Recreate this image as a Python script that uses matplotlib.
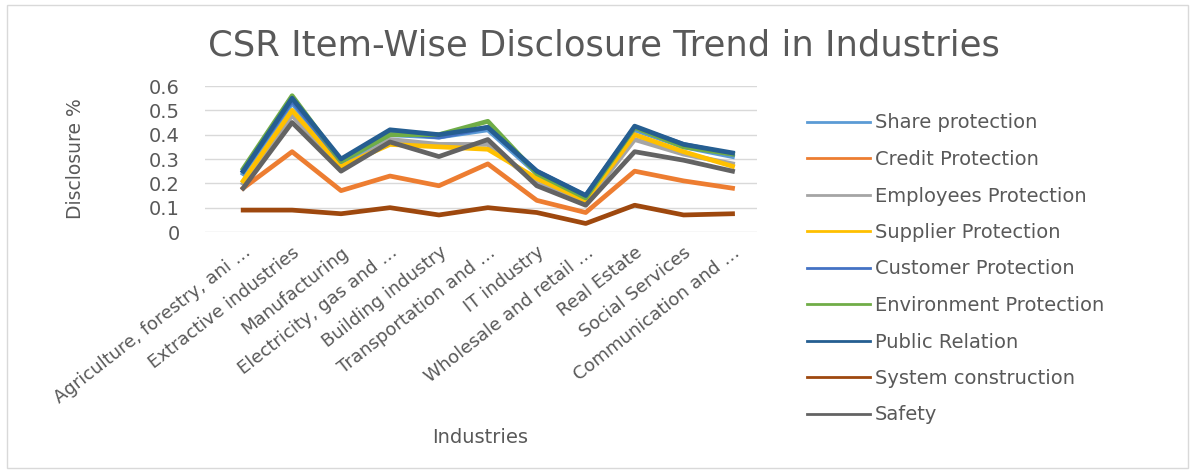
import matplotlib.pyplot as plt
from matplotlib.patches import Rectangle

plt.rcParams['font.family'] = ['DejaVu Sans']

industries = [
    "Agriculture, forestry, ani …",
    "Extractive industries",
    "Manufacturing",
    "Electricity, gas and …",
    "Building industry",
    "Transportation and …",
    "IT industry",
    "Wholesale and retail …",
    "Real Estate",
    "Social Services",
    "Communication and …",
]

share = [0.24, 0.53, 0.28, 0.40, 0.39, 0.42, 0.24, 0.14, 0.42, 0.35, 0.31]
credit = [0.18, 0.33, 0.17, 0.23, 0.19, 0.28, 0.13, 0.08, 0.25, 0.21, 0.18]
employees = [0.20, 0.48, 0.26, 0.38, 0.36, 0.36, 0.20, 0.12, 0.38, 0.32, 0.28]
supplier = [0.21, 0.50, 0.27, 0.36, 0.35, 0.34, 0.22, 0.13, 0.40, 0.33, 0.27]
customer = [0.25, 0.54, 0.29, 0.41, 0.39, 0.43, 0.25, 0.15, 0.43, 0.36, 0.32]
environment = [0.26, 0.56, 0.29, 0.40, 0.40, 0.455, 0.24, 0.14, 0.43, 0.35, 0.32]
public = [0.25, 0.55, 0.30, 0.42, 0.40, 0.43, 0.25, 0.15, 0.435, 0.36, 0.325]
system = [0.09, 0.09, 0.075, 0.10, 0.07, 0.10, 0.08, 0.035, 0.11, 0.07, 0.075]
safety = [0.18, 0.45, 0.25, 0.37, 0.31, 0.38, 0.19, 0.11, 0.33, 0.295, 0.25]

series = [
    ("Share protection", share, "#5B9BD5"),
    ("Credit Protection", credit, "#ED7D31"),
    ("Employees Protection", employees, "#A5A5A5"),
    ("Supplier Protection", supplier, "#FFC000"),
    ("Customer Protection", customer, "#4472C4"),
    ("Environment Protection", environment, "#70AD47"),
    ("Public Relation", public, "#255E91"),
    ("System construction", system, "#9E480E"),
    ("Safety", safety, "#636363"),
]

text_gray = "#595959"

fig = plt.figure(figsize=(11.95, 4.73), dpi=100)
fig.patches.append(Rectangle((0.006, 0.01), 0.988, 0.98, transform=fig.transFigure,
                             fill=False, edgecolor="#D9D9D9", linewidth=1))

ax = fig.add_axes([205 / 1195, 1 - 232 / 473, 552 / 1195, 146 / 473])
x = list(range(len(industries)))
handles = []
for label, vals, color in series:
    h, = ax.plot(x, vals, color=color, linewidth=3.4, label=label, solid_joinstyle="round")
    handles.append(h)

ax.set_ylim(0, 0.6)
ax.set_xlim(-0.78, 10.5)
ax.set_yticks([0, 0.1, 0.2, 0.3, 0.4, 0.5, 0.6])
ax.set_yticklabels(["0", "0.1", "0.2", "0.3", "0.4", "0.5", "0.6"])
ax.set_xticks(x)
ax.set_xticklabels(industries, rotation=38, ha="right", rotation_mode="anchor")
ax.tick_params(axis="both", length=0, labelsize=13, colors=text_gray, pad=8)
ax.tick_params(axis="y", labelsize=14, pad=18)
ax.grid(axis="y", color="#D9D9D9", linewidth=1)
ax.set_axisbelow(True)
for spine in ["top", "right", "left", "bottom"]:
    ax.spines[spine].set_visible(False)

ax.set_ylabel("Disclosure %", fontsize=13.5, color=text_gray, labelpad=46)
fig.text(480 / 1195, 1 - 437 / 473, "Industries", fontsize=14, color=text_gray,
         ha="center", va="center")
fig.text(604 / 1195, 1 - 45 / 473, "CSR Item-Wise Disclosure Trend in Industries",
         fontsize=25.5, color=text_gray, ha="center", va="center")

fig.legend(handles, [s[0] for s in series], loc="upper left",
           bbox_to_anchor=(790 / 1195, 1 - 96 / 473), frameon=False,
           fontsize=14, labelcolor=text_gray, handlelength=3.2,
           handletextpad=0.25, labelspacing=0.9)
for lh in fig.legends[0].get_lines():
    lh.set_linewidth(2)

plt.savefig("out.png", dpi=100)
